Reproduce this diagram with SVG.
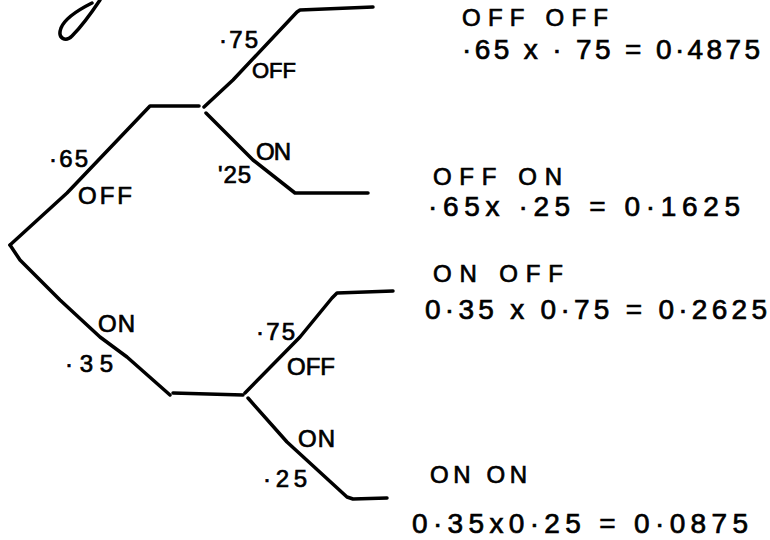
<svg xmlns="http://www.w3.org/2000/svg" width="770" height="540" viewBox="0 0 770 540">
  <style>
    .br { fill: none; stroke: #000; stroke-width: 3.5; stroke-linecap: round; stroke-linejoin: round; }
    .lbl { font-family: "Liberation Sans", Arial, sans-serif; font-size: 24px; fill: #000; stroke: #000; stroke-width: 0.7; }
    .hd { font-family: "Liberation Sans", Arial, sans-serif; font-size: 24px; fill: #000; stroke: #000; stroke-width: 0.7; }
    .res { font-family: "Liberation Sans", Arial, sans-serif; font-size: 28px; fill: #000; stroke: #000; stroke-width: 0.7; }
  </style>
  <rect width="770" height="540" fill="#fff"/>

  <!-- cut-off pen stroke at the top edge -->
  <path class="br" d="M 100 0 C 92 12, 80 28, 72 36 C 66 42, 57 39, 61 28 C 65 18, 78 10, 92 3"/>

  <!-- tree branches -->
  <g id="connectors">
    <polyline class="br" points="10,245 67,193 150,106 199,106"/>
    <polyline class="br" points="204,107 233,80 297,12 300,10 373,7"/>
    <polyline class="br" points="206,113 253,160 295,193 368,193"/>
    <polyline class="br" points="10,245 20,260 60,300 100,337 127,357 170,395"/>
    <polyline class="br" points="173,393 243,395"/>
    <polyline class="br" points="245,393 300,337 332,298 337,293 393,291"/>
    <polyline class="br" points="248,398 287,442 347,497 353,499 387,498"/>
  </g>

  <!-- branch labels -->
  <g id="b-off-1">
    <text class="lbl" x="78" y="204" textLength="54" lengthAdjust="spacing">OFF</text>
    <text class="lbl" x="49" y="167" textLength="39" lengthAdjust="spacing">·65</text>
  </g>
  <g id="b-off-off">
    <text class="lbl" x="219" y="48" textLength="39" lengthAdjust="spacing">·75</text>
    <text class="lbl" x="252" y="78" style="font-size:22px">OFF</text>
  </g>
  <g id="b-off-on">
    <text class="lbl" x="256" y="160" textLength="35" lengthAdjust="spacing">ON</text>
    <text class="lbl" x="218" y="183" textLength="33" lengthAdjust="spacing">'25</text>
  </g>
  <g id="b-on-1">
    <text class="lbl" x="98" y="332" textLength="37" lengthAdjust="spacing">ON</text>
    <text class="lbl" x="65" y="372" textLength="48" lengthAdjust="spacing">·35</text>
  </g>
  <g id="b-on-off">
    <text class="lbl" x="256" y="340" textLength="39" lengthAdjust="spacing">·75</text>
    <text class="lbl" x="287" y="375" textLength="48" lengthAdjust="spacing">OFF</text>
  </g>
  <g id="b-on-on">
    <text class="lbl" x="298" y="447" textLength="37" lengthAdjust="spacing">ON</text>
    <text class="lbl" x="263" y="487" textLength="44" lengthAdjust="spacing">·25</text>
  </g>

  <!-- outcomes -->
  <g id="r-off-off">
    <text class="hd" x="462" y="26" textLength="146" lengthAdjust="spacing">OFF OFF</text>
    <text class="res" x="462" y="59" textLength="298" lengthAdjust="spacing">·65 x · 75 = 0·4875</text>
  </g>
  <g id="r-off-on">
    <text class="hd" x="433" y="185" textLength="129" lengthAdjust="spacing">OFF ON</text>
    <text class="res" x="428" y="216" textLength="312" lengthAdjust="spacing">·65x ·25  = 0·1625</text>
  </g>
  <g id="r-on-off">
    <text class="hd" x="433" y="282" textLength="130" lengthAdjust="spacing">ON  OFF</text>
    <text class="res" x="425" y="319" textLength="342" lengthAdjust="spacing">0·35 x 0·75 = 0·2625</text>
  </g>
  <g id="r-on-on">
    <text class="hd" x="430" y="483" textLength="97" lengthAdjust="spacing">ON ON</text>
    <text class="res" x="412" y="533" textLength="336" lengthAdjust="spacing">0·35x0·25  = 0·0875</text>
  </g>
</svg>
